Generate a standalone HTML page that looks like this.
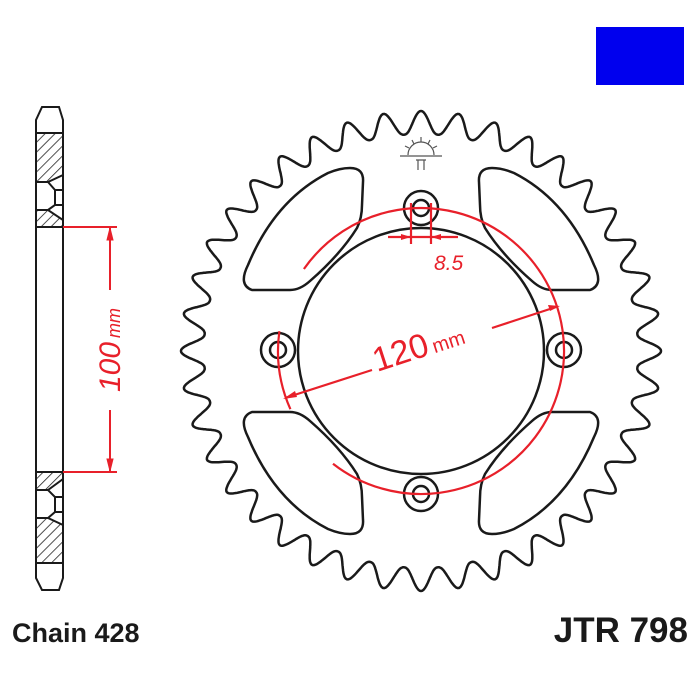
<!DOCTYPE html>
<html><head><meta charset="utf-8"><style>
html,body{margin:0;padding:0;background:#fff;width:700px;height:700px;overflow:hidden}
svg{display:block}
</style></head><body>
<svg id="s" width="700" height="700" viewBox="0 0 700 700" xmlns="http://www.w3.org/2000/svg">
<defs>
<pattern id="h" width="7" height="7" patternUnits="userSpaceOnUse" patternTransform="rotate(45)">
<line x1="0" y1="0" x2="0" y2="7" stroke="#222" stroke-width="1.6"/>
</pattern>
</defs>
<rect x="596" y="27" width="88" height="58" fill="#0000ee"/>
<g stroke="#1a1a1a" stroke-width="2" fill="none">
<path d="M42,107 L59,107 L63,120 L63,133 L36,133 L36,120 Z"/>
<rect x="36" y="133" width="27" height="94"/>
<path d="M36,133 H63 V175 L48,182 H36 Z" fill="url(#h)"/>
<path d="M36,210 L48,210 L63,220 V227 H36 Z" fill="url(#h)"/>
<path d="M36,182 L48,182 L55,190 V205 L48,210 M55,190 H63 M55,205 H63"/>
<rect x="36" y="227" width="27" height="245"/>
<rect x="36" y="472" width="27" height="91"/>
<path d="M36,472 H63 V479 L48,490 H36 Z" fill="url(#h)"/>
<path d="M36,518 L48,518 L63,525 V563 H36 Z" fill="url(#h)"/>
<path d="M36,490 L48,490 L55,497 V512 L48,518 M55,497 H63 M55,512 H63"/>
<path d="M36,563 L63,563 L63,578 L59,590 L42,590 L36,578 Z"/>
</g>
<g stroke="#e8202a" stroke-width="2" fill="#e8202a">
<line x1="63" y1="227" x2="117" y2="227"/>
<line x1="63" y1="472" x2="117" y2="472"/>
<line x1="110" y1="227" x2="110" y2="290" fill="none"/>
<line x1="110" y1="410" x2="110" y2="472" fill="none"/>
<path d="M110,228 L107,240 L113,240 Z" stroke-width="1"/>
<path d="M110,471 L107,459 L113,459 Z" stroke-width="1"/>
</g>
<text transform="translate(120,350) rotate(-90)" text-anchor="middle" font-family="Liberation Sans, sans-serif" font-style="italic" fill="#e8202a"><tspan font-size="30">100</tspan><tspan font-size="18" dx="4">mm</tspan></text>

<path id="teeth" fill="none" stroke="#1a1a1a" stroke-width="2.5"/>
<g fill="none" stroke="#1a1a1a" stroke-width="2.5">
<circle cx="421" cy="351" r="123"/>
<path id="w" d="M252,290 L290,290 Q300,290 310,281 Q340,255 357,228 Q362,218 362,205 L363,182 Q364,168 350,168 Q340,168 328,173 Q275,200 248,265 Q238,285 252,290 Z"/>
<use href="#w" transform="translate(842,0) scale(-1,1)"/>
<use href="#w" transform="translate(0,702) scale(1,-1)"/>
<use href="#w" transform="translate(842,702) scale(-1,-1)"/>
<circle cx="421" cy="208" r="17"/><circle cx="421" cy="208" r="8"/>
<circle cx="421" cy="494" r="17"/><circle cx="421" cy="494" r="8"/>
<circle cx="278" cy="350" r="17"/><circle cx="278" cy="350" r="8"/>
<circle cx="564" cy="350" r="17"/><circle cx="564" cy="350" r="8"/>
</g>
<g stroke="#555" stroke-width="1.2" fill="none">
<line x1="400" y1="156" x2="442" y2="156"/>
<path d="M408,155 A13,13 0 0 1 434,155"/>
<line x1="421" y1="137" x2="421" y2="142"/><line x1="412" y1="140" x2="414" y2="144"/><line x1="430" y1="140" x2="428" y2="144"/>
<line x1="405" y1="146" x2="409" y2="148"/><line x1="437" y1="146" x2="433" y2="148"/>
<path d="M416,160 H426 M418,160 V170 M424,160 V170"/>
</g>
<g stroke="#e8202a" stroke-width="2.2" fill="none">
<path id="ra"/>
<path id="rb"/>
<line x1="411" y1="203" x2="411" y2="244"/>
<line x1="431" y1="203" x2="431" y2="244"/>
<line x1="388" y1="237" x2="458" y2="237"/>
<line x1="285" y1="398" x2="372" y2="370"/>
<line x1="492" y1="328" x2="556" y2="307"/>
</g>
<g fill="#e8202a">
<path d="M411,237 L401,234 L401,240 Z"/><path d="M431,237 L441,234 L441,240 Z"/>
<path d="M283,399 L295,391 L297,397 Z"/><path d="M560,306 L548,305 L550,311 Z"/>
</g>
<text x="434" y="270" font-family="Liberation Sans, sans-serif" font-style="italic" font-size="21" fill="#e8202a">8.5</text>
<text transform="translate(377,372) rotate(-18)" font-family="Liberation Sans, sans-serif" fill="#e8202a"><tspan font-size="34">120</tspan><tspan font-size="20" dx="4">mm</tspan></text>

<text x="12" y="642" font-family="Liberation Sans, sans-serif" font-weight="bold" font-size="27" fill="#1a1a1a">Chain 428</text>
<text x="688" y="642" text-anchor="end" font-family="Liberation Sans, sans-serif" font-weight="bold" font-size="35" fill="#1a1a1a">JTR 798</text>
</svg>
<script>
(function(){
var cx=421,cy=351,N=40,ro=240,rr=217,d="";
var M=2400;
for(var i=0;i<=M;i++){
 var t=i/M*2*Math.PI;
 var ph=(t*N)%(2*Math.PI);
 var c=(1+Math.cos(ph))/2;
 var f=Math.pow(c,1.2);
 var r=rr+(ro-rr)*f;
 var x=cx+r*Math.sin(t),y=cy-r*Math.cos(t);
 d+=(i?"L":"M")+x.toFixed(1)+","+y.toFixed(1);
}
document.getElementById("teeth").setAttribute("d",d+"Z");
function arc(a1,a2,R){
 var p=function(a){a=a*Math.PI/180;return [(cx+R*Math.sin(a)).toFixed(1),(cy-R*Math.cos(a)).toFixed(1)];};
 var s=p(a1),e=p(a2);var large=((a2-a1+360)%360)>180?1:0;
 return "M"+s[0]+","+s[1]+" A"+R+","+R+" 0 "+large+" 1 "+e[0]+","+e[1];
}
document.getElementById("ra").setAttribute("d",arc(305,218+360,143));
document.getElementById("rb").setAttribute("d",arc(246,278,143));
})();
</script>
</body></html>
